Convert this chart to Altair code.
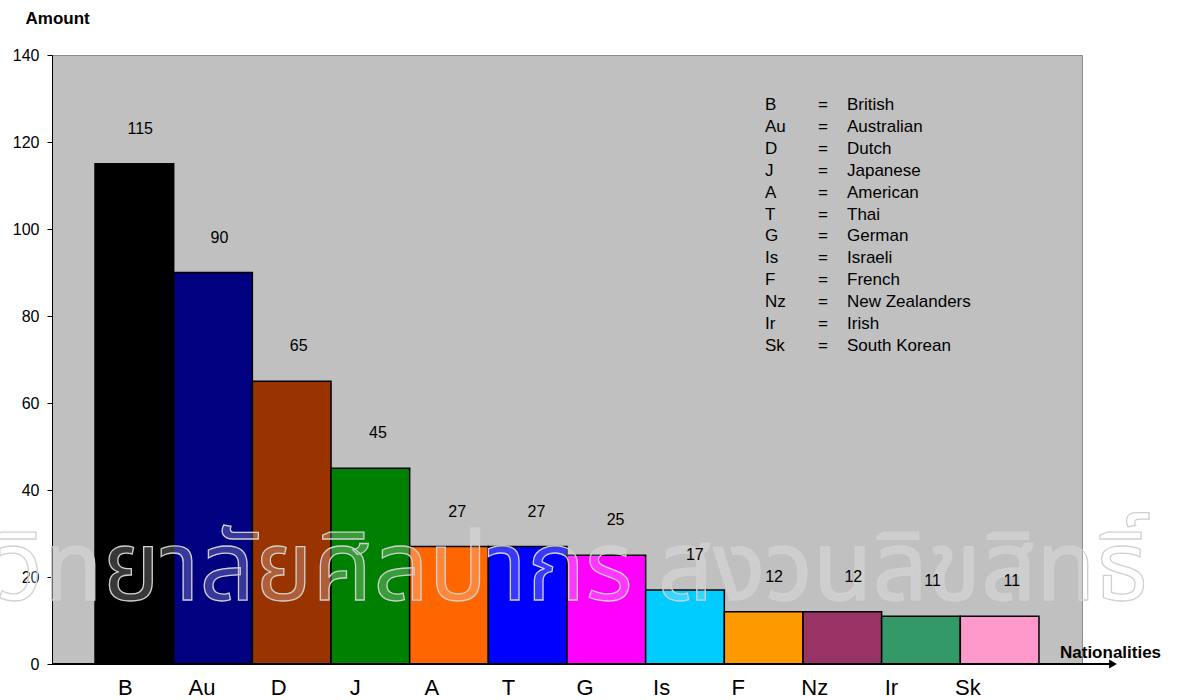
import altair as alt
import pandas as pd

# Nationalities (abbreviations), full names and head counts
codes = ["B", "Au", "D", "J", "A", "T", "G", "Is", "F", "Nz", "Ir", "Sk"]
names = ["British", "Australian", "Dutch", "Japanese", "American", "Thai",
         "German", "Israeli", "French", "New Zealanders", "Irish", "South Korean"]
amounts = [115, 90, 65, 45, 27, 27, 25, 17, 12, 12, 11, 11]
colors = ["#000000", "#000080", "#993300", "#008000", "#FF6600", "#0000FF",
          "#FF00FF", "#00CCFF", "#FF9900", "#993366", "#339966", "#FF99CC"]
y_ticks = [0, 20, 40, 60, 80, 100, 120, 140]
watermark = "วิทยาลัยศิลปากร สงวนลิขสิทธิ์"

W, H = 1030, 609
FONT = "Liberation Sans"

df = pd.DataFrame({"code": codes, "name": names, "amount": amounts})
df["slot"] = range(len(codes))
one = pd.DataFrame({"k": [0]})

# Bars fill their band completely; value labels use a matching point scale
bar_x = alt.X("code:N", sort=codes,
              scale=alt.Scale(type="band", paddingInner=0, paddingOuter=0.547),
              axis=None)
mid_x = alt.X("code:N", sort=codes,
              scale=alt.Scale(type="point", padding=1.047, align=0.5),
              axis=None)
y_enc = alt.Y(
    "amount:Q",
    scale=alt.Scale(domain=[0, 140], nice=False, zero=True),
    axis=alt.Axis(
        values=y_ticks, grid=False, title="Amount",
        domainColor="black", tickColor="black", tickSize=5,
        labelFont=FONT, labelFontSize=16, labelColor="black", labelPadding=8,
        titleFont=FONT, titleFontSize=17, titleFontWeight="bold", titleColor="black",
        titleAngle=0, titleAlign="left", titleBaseline="middle",
        titleX=-27, titleY=-37,
    ),
)

bars = alt.Chart(df).mark_bar(stroke="black", strokeWidth=1.5).encode(
    x=bar_x,
    y=y_enc,
    color=alt.Color("code:N", scale=alt.Scale(domain=codes, range=colors), legend=None),
)

# Outlined watermark lying over the bars
mark_wm = alt.Chart(one).mark_text(
    text=watermark, font="Noto Sans Thai, Noto Serif Thai, Loma, Garuda, Norasi, sans-serif",
    fontSize=97, align="center", baseline="alphabetic",
    fill="white", fillOpacity=0.22, stroke="#D0D0D0", strokeWidth=1.3,
).encode(x=alt.value(520), y=alt.value(545))

values = alt.Chart(df).mark_text(
    font=FONT, fontSize=16, color="black", baseline="middle", dx=9, dy=-35
).encode(x=mid_x, y=y_enc, text="amount:Q")

# Category labels under the axis, set slightly tighter than the bars
cat_labels = alt.Chart(df).mark_text(
    font=FONT, fontSize=22, color="black", baseline="middle"
).encode(
    x=alt.X("slot:Q", scale=alt.Scale(domain=[-0.9586, 12.489], nice=False, zero=False),
            axis=None),
    y=alt.value(633),
    text="code:N",
)

# Key of abbreviations inside the plot
key_style = dict(font=FONT, fontSize=17, color="black", align="left",
                 baseline="middle", lineHeight=21.9)
key_codes = alt.Chart(one).mark_text(text=codes, **key_style).encode(
    x=alt.value(713), y=alt.value(50))
key_eq = alt.Chart(one).mark_text(text=["="] * len(codes), **key_style).encode(
    x=alt.value(766), y=alt.value(50))
key_names = alt.Chart(one).mark_text(text=names, **key_style).encode(
    x=alt.value(795), y=alt.value(50))

# Horizontal axis drawn as an arrow
x_line = alt.Chart(one).mark_rule(color="black", strokeWidth=2).encode(
    x=alt.value(0), x2=alt.value(1058), y=alt.value(H))
x_head = alt.Chart(one).mark_point(
    shape="triangle-right", filled=True, color="black", opacity=1, size=80
).encode(x=alt.value(1061), y=alt.value(H))
x_title = alt.Chart(one).mark_text(
    text="Nationalities", font=FONT, fontSize=17, fontWeight="bold",
    color="black", align="left", baseline="middle",
).encode(x=alt.value(1008), y=alt.value(598))

chart = (
    alt.layer(bars, mark_wm, values, cat_labels, key_codes, key_eq, key_names,
              x_line, x_head, x_title)
    .resolve_scale(x="independent")
    .properties(
        width=W, height=H,
        autosize=alt.AutoSizeParams(type="none"),
        padding={"left": 52, "top": 55, "right": 95, "bottom": 36},
        background="white",
    )
    .configure_view(fill="#C0C0C0", stroke="#8C8C8C", strokeWidth=1)
)

chart.save("out.html", embed_options={"renderer": "svg", "actions": False})
